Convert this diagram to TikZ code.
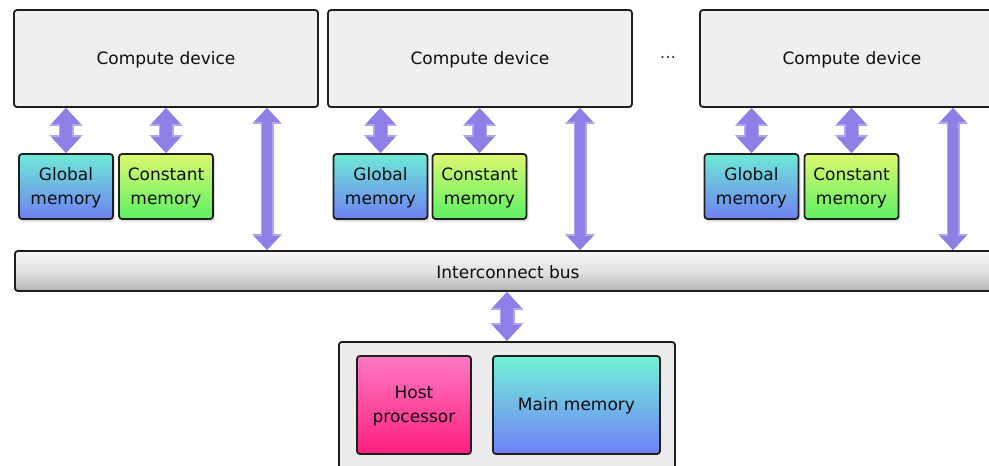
\documentclass[tikz,border=0pt]{standalone}
\usepackage{fontspec}
\setmainfont{DejaVu Sans}
\usetikzlibrary{arrows.meta,shadows}

\definecolor{edge}{HTML}{1E1E1E}
\definecolor{boxgray}{HTML}{EFEFEF}
\definecolor{hostgray}{HTML}{EBEBEB}
\definecolor{linkfill}{HTML}{8C80E6}
\definecolor{linkedge}{HTML}{AEA6F0}
\definecolor{gmtop}{HTML}{6EEAD6}
\definecolor{gmbot}{HTML}{6E80F2}
\definecolor{cmtop}{HTML}{DCF870}
\definecolor{cmbot}{HTML}{5EF062}
\definecolor{hptop}{HTML}{FF78C4}
\definecolor{hpbot}{HTML}{FF1F7E}
\definecolor{mmtop}{HTML}{72F2D6}
\definecolor{mmbot}{HTML}{7080F8}

\tikzset{
  labelfont/.style={font=\fontsize{17}{24}\selectfont, text=black!95},
  unitbox/.style={draw=edge, line width=1.8pt, rounded corners=3pt,
    inner sep=0pt, align=center, labelfont, text depth=1pt},
  cdev/.style={unitbox, fill=boxgray, minimum width=304pt, minimum height=97pt},
  membox/.style={unitbox, minimum width=94pt, minimum height=65pt,
    drop shadow={shadow xshift=2pt, shadow yshift=-3pt, opacity=0.22}},
  globalmem/.style={membox, top color=gmtop, bottom color=gmbot},
  constmem/.style={membox, top color=cmtop, bottom color=cmbot},
  shortlink/.style={
    preaction={draw=linkedge, line width=15pt,
      arrows={Triangle[length=18pt,width=32pt]-Triangle[length=18pt,width=32pt]}},
    draw=linkfill, line width=12pt,
    {Triangle[length=16pt,width=28pt]}-{Triangle[length=16pt,width=28pt]}},
  longlink/.style={
    preaction={draw=linkedge, line width=13pt,
      arrows={Triangle[length=16pt,width=29pt]-Triangle[length=16pt,width=29pt]}},
    draw=linkfill, line width=10pt,
    {Triangle[length=14pt,width=25pt]}-{Triangle[length=14pt,width=25pt]}},
}

\begin{document}
\begin{tikzpicture}[x=1pt,y=-1pt]
\useasboundingbox (0,0) rectangle (989,466);
\clip (0,0) rectangle (989,466);

% compute devices
\node[cdev] (cd1) at (166,58.5) {Compute device};
\node[cdev] (cd2) at (480,58.5) {Compute device};
\node[cdev] (cd3) at (852,58.5) {Compute device};
\node[labelfont, text=black!75] (dots) at (668,57) {...};

% per-device memories
\node[globalmem] (gm1) at (66,186.5) {Global\\memory};
\node[constmem]  (cm1) at (166,186.5) {Constant\\memory};
\node[globalmem] (gm2) at (380.5,186.5) {Global\\memory};
\node[constmem]  (cm2) at (479.5,186.5) {Constant\\memory};
\node[globalmem] (gm3) at (751.5,186.5) {Global\\memory};
\node[constmem]  (cm3) at (851.5,186.5) {Constant\\memory};

% interconnect bus
\node[unitbox, minimum width=1000pt, minimum height=40pt,
      top color=black!4, bottom color=black!30, middle color=black!11,
      anchor=west] (bus) at (14,271) {};
\node[labelfont] (buslabel) at (508,272) {Interconnect bus};

% host
\node[unitbox, fill=hostgray, minimum width=336pt, minimum height=140pt,
      anchor=north west] (host) at (338,341) {};
\node[unitbox, top color=hptop, bottom color=hpbot,
      minimum width=114pt, minimum height=98pt] (hp) at (414,405) {Host\\processor};
\node[unitbox, top color=mmtop, bottom color=mmbot,
      minimum width=167pt, minimum height=98pt] (mm) at (576.5,405) {Main memory};

% x positions of the bus links
\coordinate (l1) at (267,250);
\coordinate (l2) at (580,250);
\coordinate (l3) at (953,250);
\coordinate (lh) at (507,300);

% device-to-memory links
\draw[shortlink] (cd1.south -| gm1.north) -- (gm1.north);
\draw[shortlink] (cd1.south -| cm1.north) -- (cm1.north);
\draw[shortlink] (cd2.south -| gm2.north) -- (gm2.north);
\draw[shortlink] (cd2.south -| cm2.north) -- (cm2.north);
\draw[shortlink] (cd3.south -| gm3.north) -- (gm3.north);
\draw[shortlink] (cd3.south -| cm3.north) -- (cm3.north);

% device-to-bus links
\draw[longlink] (cd1.south -| l1) -- (bus.north -| l1);
\draw[longlink] (cd2.south -| l2) -- (bus.north -| l2);
\draw[longlink] (cd3.south -| l3) -- (bus.north -| l3);

% bus-to-host link
\draw[shortlink] (bus.south -| lh) -- (host.north -| lh);
\end{tikzpicture}
\end{document}
